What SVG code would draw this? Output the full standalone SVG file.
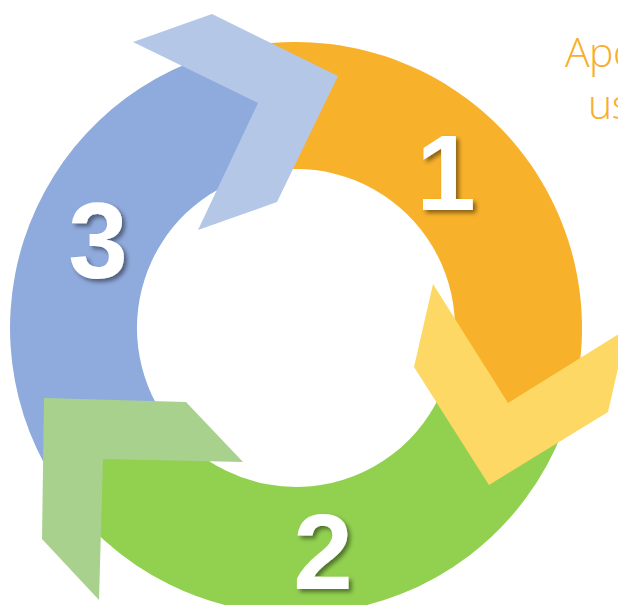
<svg xmlns="http://www.w3.org/2000/svg" width="618" height="605" viewBox="0 0 618 605">
<defs>
<style>
.num{font-family:"Liberation Sans",Arial,sans-serif;font-weight:bold;font-size:107px;fill:#ffffff;text-anchor:middle;filter:url(#sh)}
.cap{font-family:"Open Sans","Noto Sans",sans-serif;font-weight:300;font-size:41px;letter-spacing:-0.5px;fill:#F8AE2C}
</style>
<filter id="sh" x="-20%" y="-20%" width="150%" height="150%">
<feDropShadow dx="3" dy="3" stdDeviation="2" flood-color="#000" flood-opacity="0.45"/>
</filter>
</defs>
<rect width="618" height="605" fill="#ffffff"/>
<g id="segment-1"><path d="M 256.2 44.8 A 286 286 0 0 1 563.0 430.5 L 444.4 385.0 A 159 159 0 0 0 273.9 170.5 Z" fill="#F8B12A"/></g>
<g id="segment-2"><path d="M 563.0 430.5 A 286 286 0 0 1 53.5 479.6 L 161.2 412.3 A 159 159 0 0 0 444.4 385.0 Z" fill="#92D050"/></g>
<g id="segment-3"><path d="M 53.5 479.6 A 286 286 0 0 1 256.2 44.8 L 273.9 170.5 A 159 159 0 0 0 161.2 412.3 Z" fill="#8FAADC"/></g>
<g id="connectors">
<polygon id="arrow-3-1" points="133,42 212,14 338,76 277,202 198,230 258,103" fill="#B4C7E7"/>
<polygon id="arrow-1-2" points="433,284 414,367 489,485 608,412 627,329 508,403" fill="#FED864"/>
<polygon id="arrow-2-3" points="44,398 186,402 243,462 103,459 99,600 42,539" fill="#A9D18E"/>
</g>
<g id="label-1"><text class="num" x="446" y="210">1</text></g>
<g id="label-2"><text class="num" x="323" y="589">2</text></g>
<g id="label-3"><text class="num" x="98" y="278">3</text></g>
<g id="caption"><text class="cap" x="565" y="67">Apo</text><text class="cap" x="588" y="119">us</text></g>
</svg>
